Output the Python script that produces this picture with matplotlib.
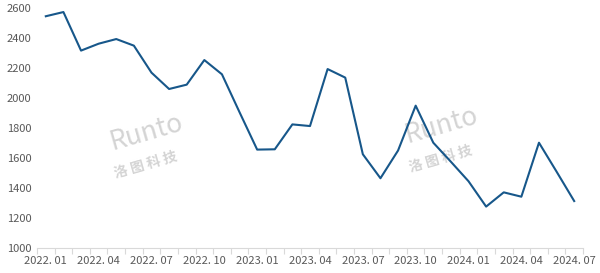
import matplotlib.pyplot as plt

plt.rcParams['font.family'] = ['Noto Sans CJK SC', 'DejaVu Sans']

# monthly values 2022.01 - 2024.07
months = []
for y in (2022, 2023, 2024):
    for m in range(1, 13):
        months.append(f"{y}. {m:02d}")
months = months[:31]

values = [2545, 2573, 2316, 2362, 2393, 2349, 2169, 2060, 2089, 2253,
          2158, 1905, 1656, 1658, 1824, 1813, 2193, 2136, 1625, 1465,
          1650, 1949, 1702, 1575, 1445, 1276, 1371, 1342, 1702, 1509,
          1313]

fig = plt.figure(figsize=(6, 2.73), dpi=100)
ax = fig.add_axes([37/600, 25/273, 546/600, 240/273])

x = list(range(len(values)))
ax.plot(x, values, color='#17578a', linewidth=1.5)

ax.set_xlim(-0.5, len(values) - 0.5)
ax.set_ylim(1000, 2600)
ax.set_yticks(range(1000, 2601, 200))

ax.set_xticks(x[::3])
ax.set_xticklabels(months[::3])
ax.set_xticks([i - 0.5 for i in range(len(values) + 1)], minor=True)
ax.tick_params(axis='x', which='major', length=0, pad=6, labelsize=8, labelcolor='#595959')
ax.tick_params(axis='x', which='minor', length=4, color='#d9d9d9', width=0.8)
ax.tick_params(axis='y', length=0, pad=4, labelsize=8, labelcolor='#595959')

for s in ('top', 'right', 'left'):
    ax.spines[s].set_visible(False)
ax.spines['bottom'].set_color('#d9d9d9')

# watermark
for wx, wy, cy in ((0.20, 0.48, 0.345), (0.74, 0.51, 0.37)):
    ax.text(wx, wy, "Runto", transform=ax.transAxes, fontsize=19, style='italic',
            color='#d4d4d4', rotation=16, ha='center', va='center', zorder=0)
    ax.text(wx, cy, "洛 图 科 技", transform=ax.transAxes, fontsize=10,
            color='#d4d4d4', rotation=16, ha='center', va='center', fontweight='bold', zorder=0)

fig.savefig('out.png')
